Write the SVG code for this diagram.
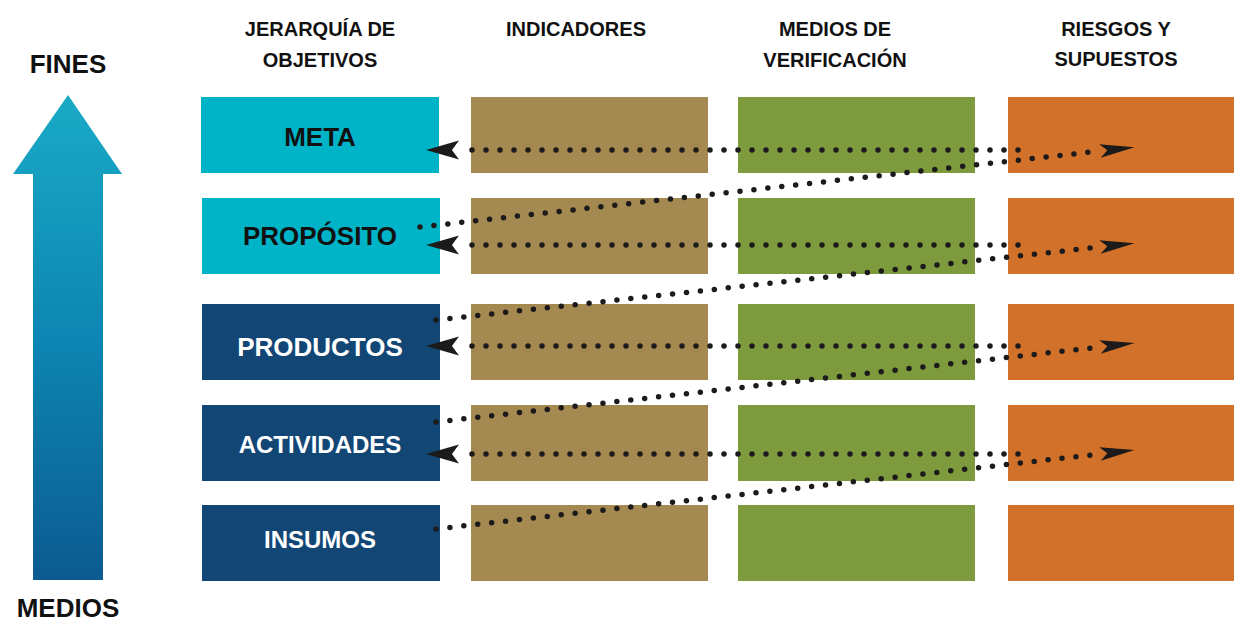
<svg xmlns="http://www.w3.org/2000/svg" width="1234" height="622" viewBox="0 0 1234 622">
<style>
.hdr{font-family:"Liberation Sans",Arial,sans-serif;font-weight:bold;font-size:20px;fill:#111;text-anchor:middle}
.side{font-family:"Liberation Sans",Arial,sans-serif;font-weight:bold;font-size:26px;fill:#111;text-anchor:middle}
.lbl{font-family:"Liberation Sans",Arial,sans-serif;font-weight:bold;text-anchor:middle;dominant-baseline:central}
.dk{fill:#111}
.wt{fill:#fff}
.cyan{fill:#00b4c7}
.navy{fill:#124675}
.brown{fill:#a48a50}
.green{fill:#7d9b3c}
.orange{fill:#d2722a}
.dot{fill:none;stroke:#1c1a1a;stroke-width:5.5;stroke-linecap:round;stroke-dasharray:0 14}
</style>
<defs>
<linearGradient id="ag" x1="0" y1="0" x2="0" y2="1">
<stop offset="0" stop-color="#1aaac6"/>
<stop offset="0.5" stop-color="#0d86b3"/>
<stop offset="1" stop-color="#0c5b91"/>
</linearGradient>
<marker id="al" markerUnits="userSpaceOnUse" markerWidth="40" markerHeight="24" viewBox="-2 -10 34 20" refX="0" refY="0" orient="auto">
<path d="M0,-8 L28,0 L0,8 L6,0 Z" fill="#1c1a1a"/>
</marker>
<marker id="ar" markerUnits="userSpaceOnUse" markerWidth="40" markerHeight="20" viewBox="-2 -8 38 16" refX="0" refY="0" orient="auto">
<path d="M0,-6.5 L33,0 L0,6.5 L7,0 Z" fill="#1c1a1a"/>
</marker>
</defs>
<rect width="1234" height="622" fill="#fff"/>

<g id="side-arrow">
<path d="M68,95 L122,174 L103,174 L103,580 L33,580 L33,174 L13,174 Z" fill="url(#ag)"/>
<text class="side" x="68" y="73">FINES</text>
<text class="side" x="68" y="617">MEDIOS</text>
</g>

<g id="headers">
<text class="hdr" x="320" y="36">JERARQUÍA DE</text>
<text class="hdr" x="320" y="67">OBJETIVOS</text>
<text class="hdr" x="576" y="36">INDICADORES</text>
<text class="hdr" x="835" y="36">MEDIOS DE</text>
<text class="hdr" x="835" y="67">VERIFICACIÓN</text>
<text class="hdr" x="1116" y="36">RIESGOS Y</text>
<text class="hdr" x="1116" y="66">SUPUESTOS</text>
</g>

<g id="grid">
<rect class="brown" x="471" y="97" width="237" height="76"/>
<rect class="green" x="738" y="97" width="237" height="76"/>
<rect class="orange" x="1008" y="97" width="226" height="76"/>
<rect class="brown" x="471" y="198" width="237" height="76"/>
<rect class="green" x="738" y="198" width="237" height="76"/>
<rect class="orange" x="1008" y="198" width="226" height="76"/>
<rect class="brown" x="471" y="304" width="237" height="76"/>
<rect class="green" x="738" y="304" width="237" height="76"/>
<rect class="orange" x="1008" y="304" width="226" height="76"/>
<rect class="brown" x="471" y="405" width="237" height="76"/>
<rect class="green" x="738" y="405" width="237" height="76"/>
<rect class="orange" x="1008" y="405" width="226" height="76"/>
<rect class="brown" x="471" y="505" width="237" height="76"/>
<rect class="green" x="738" y="505" width="237" height="76"/>
<rect class="orange" x="1008" y="505" width="226" height="76"/>
</g>

<g id="meta">
<rect class="cyan" x="201" y="97" width="238" height="76"/>
<text class="lbl dk" x="320" y="137" font-size="26">META</text>
</g>
<g id="proposito">
<rect class="cyan" x="202" y="198" width="238" height="76"/>
<text class="lbl dk" x="320" y="236" font-size="26">PROPÓSITO</text>
</g>
<g id="productos">
<rect class="navy" x="202" y="304" width="238" height="76"/>
<text class="lbl wt" x="320" y="347" font-size="26">PRODUCTOS</text>
</g>
<g id="actividades">
<rect class="navy" x="202" y="405" width="238" height="76"/>
<text class="lbl wt" x="320" y="444" font-size="24">ACTIVIDADES</text>
</g>
<g id="insumos">
<rect class="navy" x="202" y="505" width="238" height="76"/>
<text class="lbl wt" x="320" y="539" font-size="24">INSUMOS</text>
</g>

<g id="connectors">
<line class="dot" x1="1018" y1="150" x2="459" y2="150" marker-end="url(#al)"/>
<line class="dot" x1="1018" y1="245" x2="459" y2="245" marker-end="url(#al)"/>
<line class="dot" x1="1018" y1="346" x2="459" y2="346" marker-end="url(#al)"/>
<line class="dot" x1="1018" y1="454" x2="459" y2="454" marker-end="url(#al)"/>
<line class="dot" x1="420" y1="227" x2="1100" y2="151" marker-end="url(#ar)"/>
<line class="dot" x1="436" y1="320" x2="1100" y2="247" marker-end="url(#ar)"/>
<line class="dot" x1="436" y1="422" x2="1100" y2="347" marker-end="url(#ar)"/>
<line class="dot" x1="436" y1="529" x2="1100" y2="454" marker-end="url(#ar)"/>
</g>
</svg>
